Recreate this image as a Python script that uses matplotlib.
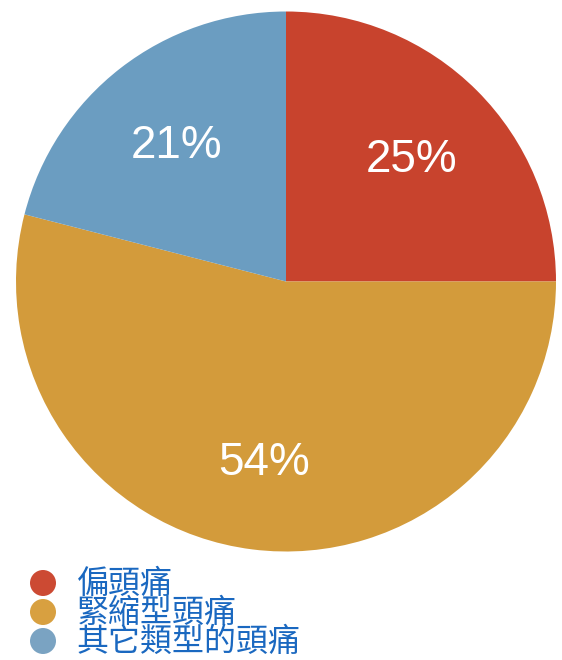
import matplotlib
matplotlib.use("Agg")
import matplotlib.pyplot as plt
import matplotlib.transforms as mtransforms
from matplotlib.patches import Ellipse

categories = ["偏頭痛", "緊縮型頭痛", "其它類型的頭痛"]
values = [25, 54, 21]
colors = ["#c8432d", "#d39b3b", "#6b9dc1"]
legend_colors = ["#cc4a33", "#d8a040", "#7aa3c2"]

W, H = 562, 660
fig = plt.figure(figsize=(W / 100, H / 100), dpi=100)
fig.patch.set_facecolor("white")

cx, cy, r = 286, 281.5, 270
ax = fig.add_axes([(cx - r) / W, (H - cy - r) / H, 2 * r / W, 2 * r / H])
wedges, texts, autotexts = ax.pie(
    values, colors=colors, startangle=90, counterclock=False,
    autopct=lambda p: f"{p:.0f}%", pctdistance=0.66, radius=1,
    wedgeprops=dict(linewidth=0),
    textprops=dict(color="white", fontsize=33, family=["Liberation Sans", "DejaVu Sans"]),
)
shift = mtransforms.ScaledTranslation(0, -5 / 100, fig.dpi_scale_trans)
for t in autotexts:
    t.set_transform(t.get_transform() + shift)
ax.set_xlim(-1, 1)
ax.set_ylim(-1, 1)
ax.set_aspect("equal")
ax.axis("off")

y0 = 583
step = 29
for i, (lab, c) in enumerate(zip(categories, legend_colors)):
    y = y0 + i * step
    fig.add_artist(Ellipse((43 / W, 1 - y / H), 26 / W, 26 / H,
                           transform=fig.transFigure, facecolor=c, edgecolor="none"))
    fig.text(77 / W, 1 - (y + 1) / H, lab, color="#1a68c0", fontsize=23,
             family=["Noto Sans CJK TC", "DejaVu Sans"], va="center", ha="left")

fig.savefig("out.png", dpi=100, facecolor="white")
